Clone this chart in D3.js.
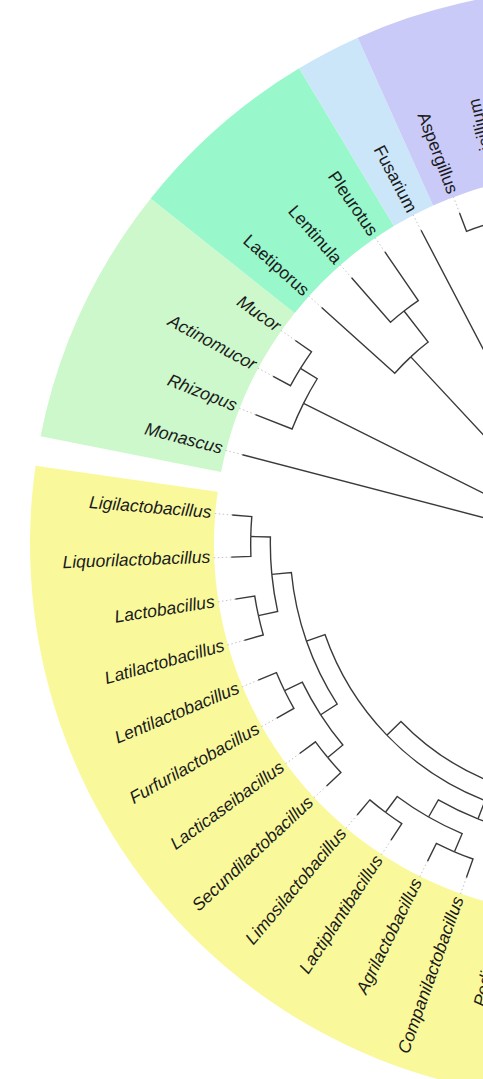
<!DOCTYPE html>
<html>
<head>
<meta charset="utf-8">
<script src="https://cdn.jsdelivr.net/npm/d3@7"></script>
<style>
  body { margin: 0; background: #fff; }
  svg { display: block; }
  .label { font-family: "Liberation Sans", Arial, sans-serif; font-size: 17.5px; fill: #1b1b1b; }
</style>
</head>
<body>
<div id="chart"></div>
<script>
// coloured bands, clockwise; genera listed in the order they sit round the circle
var bandNames = ["Acetobacteraceae", "Actinomycetota", "Bacillales", "Strepto-/Enterococcaceae",
    "Lactobacillaceae", "Mucorales", "Agaricomycetes", "Sordariomycetes", "Eurotiomycetes & yeasts"];
var bandKingdom = ["Bacteria", "Bacteria", "Bacteria", "Bacteria", "Bacteria",
    "Fungi", "Fungi", "Fungi", "Fungi"];
var bandItalic = [true, true, true, true, true, true, false, false, false];
var bandMembers = [
    ["Acetobacter", "Gluconobacter", "Komagataeibacter", "Zymomonas"],
    ["Bifidobacterium", "Corynebacterium", "Brevibacterium", "Propionibacterium"],
    ["Bacillus", "Staphylococcus"],
    ["Streptococcus", "Lactococcus", "Enterococcus", "Tetragenococcus"],
    ["Fructobacillus", "Oenococcus", "Leuconostoc", "Weissella", "Pediococcus",
        "Companilactobacillus", "Agrilactobacillus", "Lactiplantibacillus", "Limosilactobacillus",
        "Secundilactobacillus", "Lacticaseibacillus", "Furfurilactobacillus", "Lentilactobacillus",
        "Latilactobacillus", "Lactobacillus", "Liquorilactobacillus", "Ligilactobacillus"],
    ["Monascus", "Rhizopus", "Actinomucor", "Mucor"],
    ["Laetiporus", "Lentinula", "Pleurotus"],
    ["Fusarium"],
    ["Aspergillus", "Penicillium", "Saccharomyces", "Zygosaccharomyces", "Torulaspora",
        "Kluyveromyces", "Lachancea", "Hanseniaspora", "Pichia", "Wickerhamomyces",
        "Debaryomyces", "Candida", "Yarrowia"]
];

// internal nodes: [clade, parent, height in levels above the aligned tips]
var clades = [
    ["root", null, 18],
    ["Bacteria", "root", 16],
    ["Proteobacteria", "Bacteria", 6],
    ["Acetobacteraceae", "Proteobacteria", 2],
    ["Aceto_Glucono", "Acetobacteraceae", 1],
    ["Terrabacteria", "Bacteria", 12],
    ["Actinomycetota", "Terrabacteria", 6],
    ["Bifido_group", "Actinomycetota", 4],
    ["Coryne_Brevi", "Bifido_group", 2],
    ["Bacilli", "Terrabacteria", 9],
    ["Bacillales", "Bacilli", 4],
    ["Lactobacillales", "Bacilli", 7],
    ["Strep_Entero", "Lactobacillales", 4],
    ["Streptococcaceae", "Strep_Entero", 2],
    ["Enterococcaceae", "Strep_Entero", 2],
    ["Lactobacillaceae", "Lactobacillales", 5],
    ["Leuconostoc_group", "Lactobacillaceae", 4],
    ["Leuc_Oeno_Fruc", "Leuconostoc_group", 3],
    ["Fruc_Oeno", "Leuc_Oeno_Fruc", 2],
    ["Lacto_core", "Lactobacillaceae", 4],
    ["Pedio_group", "Lacto_core", 3],
    ["Plant_Agri", "Pedio_group", 2],
    ["Lim_Lpl", "Plant_Agri", 1],
    ["Agr_Com", "Plant_Agri", 1],
    ["Lacto_upper", "Lacto_core", 3],
    ["Lenti_Secundi", "Lacto_upper", 2],
    ["Len_Fur", "Lenti_Secundi", 1],
    ["Lcs_Sec", "Lenti_Secundi", 1],
    ["Lacto_Ligi", "Lacto_upper", 2],
    ["Lat_Lac", "Lacto_Ligi", 1],
    ["Liq_Ligi", "Lacto_Ligi", 1],
    ["Fungi_core", "root", 14],
    ["Mucorales", "Fungi_core", 2],
    ["Mucoraceae", "Mucorales", 1],
    ["Dikarya", "Fungi_core", 12],
    ["Agaricomycetes", "Dikarya", 5],
    ["Agaricales", "Agaricomycetes", 3],
    ["Ascomycota", "Dikarya", 11],
    ["Pezizomycotina", "Ascomycota", 8],
    ["Aspergillaceae", "Pezizomycotina", 1],
    ["Saccharomycetes", "Ascomycota", 9],
    ["Sacch_core", "Saccharomycetes", 7],
    ["Sacch_Hanse", "Sacch_core", 6],
    ["Saccharomycetaceae", "Sacch_Hanse", 4],
    ["Sacch_Zygo_Toru", "Saccharomycetaceae", 2],
    ["Sacch_Zygo", "Sacch_Zygo_Toru", 1],
    ["Kluy_Lach", "Saccharomycetaceae", 1],
    ["Pichia_Debary", "Sacch_core", 5],
    ["Pichiaceae", "Pichia_Debary", 2],
    ["Debary_Candida", "Pichia_Debary", 2]
];

// tips: [genus, parent clade]
var tipParents = [
    ["Acetobacter", "Aceto_Glucono"], ["Gluconobacter", "Aceto_Glucono"],
    ["Komagataeibacter", "Acetobacteraceae"], ["Zymomonas", "Proteobacteria"],
    ["Bifidobacterium", "Bifido_group"], ["Corynebacterium", "Coryne_Brevi"],
    ["Brevibacterium", "Coryne_Brevi"], ["Propionibacterium", "Actinomycetota"],
    ["Bacillus", "Bacillales"], ["Staphylococcus", "Bacillales"],
    ["Streptococcus", "Streptococcaceae"], ["Lactococcus", "Streptococcaceae"],
    ["Enterococcus", "Enterococcaceae"], ["Tetragenococcus", "Enterococcaceae"],
    ["Fructobacillus", "Fruc_Oeno"], ["Oenococcus", "Fruc_Oeno"],
    ["Leuconostoc", "Leuc_Oeno_Fruc"], ["Weissella", "Leuconostoc_group"],
    ["Pediococcus", "Pedio_group"],
    ["Companilactobacillus", "Agr_Com"], ["Agrilactobacillus", "Agr_Com"],
    ["Lactiplantibacillus", "Lim_Lpl"], ["Limosilactobacillus", "Lim_Lpl"],
    ["Secundilactobacillus", "Lcs_Sec"], ["Lacticaseibacillus", "Lcs_Sec"],
    ["Furfurilactobacillus", "Len_Fur"], ["Lentilactobacillus", "Len_Fur"],
    ["Latilactobacillus", "Lat_Lac"], ["Lactobacillus", "Lat_Lac"],
    ["Liquorilactobacillus", "Liq_Ligi"], ["Ligilactobacillus", "Liq_Ligi"],
    ["Monascus", "root"],
    ["Rhizopus", "Mucorales"], ["Actinomucor", "Mucoraceae"], ["Mucor", "Mucoraceae"],
    ["Laetiporus", "Agaricomycetes"], ["Lentinula", "Agaricales"], ["Pleurotus", "Agaricales"],
    ["Fusarium", "Pezizomycotina"],
    ["Aspergillus", "Aspergillaceae"], ["Penicillium", "Aspergillaceae"],
    ["Saccharomyces", "Sacch_Zygo"], ["Zygosaccharomyces", "Sacch_Zygo"],
    ["Torulaspora", "Sacch_Zygo_Toru"],
    ["Kluyveromyces", "Kluy_Lach"], ["Lachancea", "Kluy_Lach"],
    ["Hanseniaspora", "Sacch_Hanse"],
    ["Pichia", "Pichiaceae"], ["Wickerhamomyces", "Pichiaceae"],
    ["Debaryomyces", "Debary_Candida"], ["Candida", "Debary_Candida"],
    ["Yarrowia", "Saccharomycetes"]
];

var width = 483, height = 1079;
var cx = 585, cy = 544;            // the circle's centre lies off the right edge
var tipR = 354, labelR = 375, bandInner = 371, bandOuter = 555;
var stepDeg = 6.83, kingdomGap = 1.45;
var anchorTip = "Ligilactobacillus", anchorDeg = 184.7;
var flipFrom = 90, flipTo = 253;   // labels between these angles read inward

var bandColor = d3.scaleOrdinal()
    .domain(bandNames)
    .range(["#f7d0e0", "#fbdcc4", "#f6e3b4", "#fbeeb0", "#f9f99c",
        "#ccf8cc", "#98f7cb", "#cbe6f9", "#cacaf8"]);

var tipIndex = new Map(bandMembers.flat().map((n, i) => [n, i]));
var tipBand = new Map();
bandMembers.forEach((m, i) => m.forEach(n => tipBand.set(n, i)));

var table = clades.map(c => ({ id: c[0], parentId: c[1], level: c[2] }))
    .concat(tipParents.map(t => ({ id: t[0], parentId: t[1], level: 0 })));

var root = d3.stratify()
    .id(d => d.id)
    .parentId(d => d.parentId)(table);

// children in the order of the tips round the circle
root.sort((a, b) => d3.min(a.leaves(), l => tipIndex.get(l.id)) - d3.min(b.leaves(), l => tipIndex.get(l.id)));

function kingdomOf(node) {
    return bandKingdom[tipBand.get(node.id)];
}

d3.cluster()
    .nodeSize([1, 1])
    .separation((a, b) => kingdomOf(a) === kingdomOf(b) ? 1 : kingdomGap)(root);

var anchor = root.leaves().find(l => l.id === anchorTip);
var angle = d3.scaleLinear()
    .domain([anchor.x, anchor.x + 1])
    .range([anchorDeg * Math.PI / 180, (anchorDeg + stepDeg) * Math.PI / 180]);
var radius = d3.scaleLinear()
    .domain([0, root.data.level])
    .range([tipR, 0]);

root.each(n => {
    n.a = angle(n.x);
    n.r = radius(n.data.level);
});

var svg = d3.select("#chart")
    .append("svg")
    .attr("width", width)
    .attr("height", height);

var g = svg.append("g")
    .attr("transform", `translate(${cx}, ${cy})`);

// bands behind the labels
var half = stepDeg / 2 * Math.PI / 180;
var bandArc = d3.arc().innerRadius(bandInner).outerRadius(bandOuter);
var tipNode = new Map(root.leaves().map(l => [l.id, l]));

g.append("g")
    .selectAll("path")
    .data(bandMembers)
    .join("path")
    .attr("d", (members, i) => {
        var a0 = d3.min(members, m => tipNode.get(m).a) - half;
        var a1 = d3.max(members, m => tipNode.get(m).a) + half;
        return bandArc({ startAngle: a0 + Math.PI / 2, endAngle: a1 + Math.PI / 2 });
    })
    .attr("fill", (members, i) => bandColor(bandNames[i]));

// faint dotted leaders from the tips to the labels
g.append("g")
    .selectAll("line")
    .data(root.leaves())
    .join("line")
    .attr("x1", d => tipR * Math.cos(d.a))
    .attr("y1", d => tipR * Math.sin(d.a))
    .attr("x2", d => (labelR - 2) * Math.cos(d.a))
    .attr("y2", d => (labelR - 2) * Math.sin(d.a))
    .attr("stroke", "#c4c4c4")
    .attr("stroke-width", 1)
    .attr("stroke-dasharray", "1.5,2.5");

// elbow links: arc round the parent, then straight out to the child
function stepLink(d) {
    var s = d.source, t = d.target;
    var p = d3.path();
    p.moveTo(s.r * Math.cos(s.a), s.r * Math.sin(s.a));
    if (s.r > 0) p.arc(0, 0, s.r, s.a, t.a, t.a < s.a);
    p.lineTo(t.r * Math.cos(t.a), t.r * Math.sin(t.a));
    return p.toString();
}

g.append("g")
    .attr("fill", "none")
    .attr("stroke", "#3a3a3a")
    .attr("stroke-width", 1.4)
    .selectAll("path")
    .data(root.links())
    .join("path")
    .attr("d", stepLink);

function degOf(d) {
    var deg = d.a * 180 / Math.PI;
    return ((deg % 360) + 360) % 360;
}
function flipped(d) {
    var deg = degOf(d);
    return deg > flipFrom && deg < flipTo;
}

g.append("g")
    .selectAll("text")
    .data(root.leaves())
    .join("text")
    .attr("class", "label")
    .attr("transform", d => `rotate(${degOf(d)}) translate(${labelR},0)` + (flipped(d) ? " rotate(180)" : ""))
    .attr("text-anchor", d => flipped(d) ? "end" : "start")
    .attr("dy", "0.27em")
    .style("font-style", d => bandItalic[tipBand.get(d.id)] ? "italic" : "normal")
    .text(d => d.id);
</script>
</body>
</html>
